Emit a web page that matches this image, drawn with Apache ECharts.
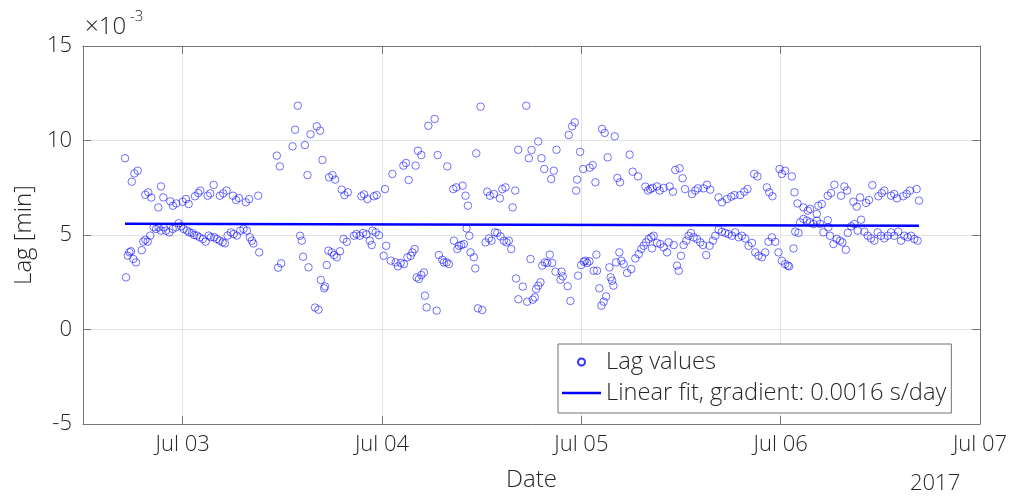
<!DOCTYPE html>
<html>
<head>
<meta charset="utf-8">
<script src="https://cdn.jsdelivr.net/npm/echarts@6/dist/echarts.min.js"></script>
<style>
  html, body { margin: 0; padding: 0; background: #ffffff; }
  #chart { width: 1011px; height: 497px; }
</style>
</head>
<body>
<div id="chart"></div>
<script>
// Lag samples, [hours after 2017-07-03 00:00, lag in 1e-3 min]
// upper branch of the lag record
const upperLag = [
  [-6.94,9.06],[-6.13,7.82],[-5.82,8.26],[-5.41,8.40],[-4.50,7.13],[-4.14,7.26],[-3.78,6.98],[-2.93,6.46],[-2.61,7.57],[-2.33,6.99],
  [-1.49,6.78],[-1.17,6.55],[-0.77,6.67],[0.00,6.76],[0.40,6.90],[0.72,6.64],[1.48,7.05],[1.88,7.22],[2.12,7.35],[3.01,7.08],
  [3.32,7.20],[3.73,7.65],[4.48,7.08],[4.88,7.20],[5.29,7.35],[6.05,7.08],[6.44,6.85],[6.77,6.96],[7.61,6.73],[8.01,6.90],
  [9.09,7.08],[11.34,9.20],[11.70,8.63],[13.23,9.69],[13.54,10.57],[13.86,11.84],[14.71,9.76],[15.03,8.17],[15.39,10.33],[16.15,10.75],
  [16.55,10.52],[16.83,8.97],[17.63,8.05],[18.04,8.17],[18.35,7.93],[19.15,7.40],[19.48,7.11],[19.88,7.26],[21.52,7.05],[21.84,7.15],
  [22.24,6.90],[23.04,7.05],[23.36,7.11],[24.36,7.43],[25.25,8.23],[26.57,8.67],[26.89,8.81],[27.21,7.91],[28.05,8.67],[28.33,9.46],
  [28.74,9.23],[29.58,10.78],[30.34,11.14],[30.70,9.23],[31.86,8.63],[32.58,7.43],[32.95,7.52],[33.70,7.61],[34.06,7.08],[34.34,6.55],
  [35.35,9.32],[35.87,11.79],[36.67,7.29],[36.99,7.08],[37.47,7.17],[38.19,6.94],[38.48,7.43],[38.87,7.52],[39.72,6.46],[40.04,7.35],
  [40.40,9.51],[41.37,11.84],[41.68,9.06],[42.00,9.50],[42.81,9.95],[43.20,9.06],[43.53,8.49],[44.37,7.96],[44.68,8.40],[45.01,9.51],
  [46.48,10.29],[46.89,10.75],[47.21,10.96],[47.37,7.35],[47.49,7.93],[47.86,9.40],[48.22,8.49],[49.01,8.56],[49.37,8.70],[49.70,7.79],
  [50.50,10.61],[50.81,10.40],[51.17,9.11],[52.02,10.22],[52.34,8.02],[52.66,7.79],[53.82,9.25],[54.18,8.35],[54.83,8.10],[55.71,7.56],
  [56.03,7.35],[56.31,7.43],[56.58,7.49],[57.11,7.57],[57.43,7.35],[57.91,7.49],[58.63,7.57],[59.04,7.29],[59.31,8.44],[59.83,8.53],
  [60.19,8.00],[60.48,7.43],[61.32,7.17],[61.72,7.35],[62.04,7.47],[62.72,7.47],[63.13,7.66],[63.52,7.40],[64.52,6.99],[64.93,6.73],
  [65.53,6.90],[66.05,7.03],[66.44,7.11],[67.13,7.11],[67.61,7.29],[68.01,7.43],[68.81,8.23],[69.21,8.10],[70.34,7.52],[70.62,7.26],
  [71.01,7.05],[71.86,8.49],[72.14,8.23],[72.54,8.40],[73.35,8.10],[73.66,7.26],[74.02,6.67],[74.74,6.46],[75.27,6.29],[75.55,6.38],
  [76.35,6.11],[76.54,6.55],[76.95,6.64],[77.67,7.08],[78.07,7.22],[78.47,7.66],[79.27,7.08],[79.67,7.57],[80.00,7.35],[80.75,6.76],
  [81.16,6.50],[81.56,6.99],[82.28,6.70],[82.64,6.85],[83.04,7.64],[83.76,7.05],[84.17,7.22],[84.48,7.35],[85.29,7.08],[85.68,7.17],
  [86.01,6.94],[86.76,7.05],[87.17,7.17],[87.57,7.35],[88.37,7.43],[88.65,6.82]
];

// lower branch of the lag record
const lowerLag = [
  [-6.82,2.76],[-6.61,3.91],[-6.42,4.09],[-6.22,4.14],[-5.94,3.73],[-5.62,3.55],[-4.93,4.20],[-4.74,4.65],[-4.50,4.75],[-4.21,4.65],
  [-3.90,4.97],[-3.49,5.41],[-3.21,5.32],[-2.89,5.41],[-2.61,5.23],[-2.28,5.41],[-2.01,5.23],[-1.61,5.14],[-1.20,5.32],[-0.81,5.41],
  [-0.48,5.62],[-0.20,5.46],[0.12,5.32],[0.52,5.23],[0.79,5.14],[1.12,5.11],[1.39,5.00],[1.72,4.97],[2.04,4.88],[2.44,4.79],
  [2.77,4.65],[3.13,4.97],[3.40,4.88],[3.80,4.88],[4.12,4.79],[4.45,4.70],[4.81,4.61],[5.09,4.56],[5.41,4.97],[5.81,5.14],
  [6.13,5.05],[6.53,4.97],[6.93,5.23],[7.33,5.32],[7.73,5.23],[8.09,4.88],[8.33,4.70],[8.51,4.55],[9.21,4.08],
  [11.49,3.27],[11.86,3.50],[14.14,4.96],[14.34,4.70],[14.50,3.85],[15.15,3.29],[15.94,1.16],[16.35,1.05],[16.63,2.62],[17.03,2.18],[17.15,2.28],
  [17.35,3.41],[17.55,4.17],[17.95,4.08],[18.23,3.94],[18.55,3.82],[18.95,4.14],[19.36,4.79],[19.76,4.64],[20.63,4.96],[20.92,5.05],
  [21.32,4.96],[21.72,5.11],[22.12,5.03],[22.52,4.70],[22.76,4.47],[22.85,5.23],[23.24,5.14],[23.64,4.99],[24.20,3.90],[24.50,4.43],
  [25.05,3.64],[25.65,3.55],[25.92,3.34],[26.25,3.52],[26.64,3.46],[27.05,3.82],[27.45,3.90],[27.66,4.08],[27.93,4.26],[28.17,2.76],
  [28.45,2.67],[28.74,2.88],[29.05,3.02],[29.17,1.79],[29.37,1.17],[30.58,1.00],[30.85,3.94],[31.26,3.69],[31.45,3.55],[31.78,3.55],
  [32.06,3.46],[32.66,4.70],[33.07,4.26],[33.26,4.43],[33.55,4.47],[33.86,4.52],[34.18,5.35],[34.51,4.96],[34.66,4.08],[35.06,3.82],
  [35.23,3.23],[35.54,1.12],[36.07,1.03],[36.47,4.61],[36.87,4.82],[37.19,4.70],[37.59,5.14],[37.88,5.11],[38.27,4.93],[38.67,4.70],
  [38.99,4.61],[39.27,4.70],[39.56,4.26],[40.14,2.70],[40.42,1.60],[40.95,2.27],[41.48,1.47],[41.88,3.73],[42.15,1.58],[42.40,1.70],
  [42.56,2.14],[42.81,2.32],[43.08,2.50],[43.29,3.38],[43.60,3.55],[43.89,3.52],[44.20,3.96],[44.49,3.52],[44.89,3.06],[45.49,2.64],
  [45.61,3.06],[45.76,2.81],[46.36,2.29],[46.69,1.51],[47.61,2.85],[47.98,3.41],[48.29,3.59],[48.49,3.64],[48.70,3.52],[48.97,3.61],
  [49.49,3.11],[49.81,3.96],[49.89,3.11],[50.17,2.18],[50.42,1.26],[50.69,1.47],[50.98,1.75],[51.38,3.29],[51.53,2.76],[51.70,2.58],
  [51.86,2.32],[52.18,3.55],[52.58,4.08],[52.82,3.64],[53.10,3.46],[53.51,2.99],[54.02,3.20],[54.50,3.76],[54.90,3.99],[55.22,4.26],
  [55.50,4.43],[55.79,4.61],[56.10,4.79],[56.43,4.88],[56.51,4.29],[56.70,4.96],[57.11,4.58],[57.51,4.52],[57.91,4.35],[58.32,4.08],
  [58.51,4.61],[59.12,4.47],[59.52,3.38],[59.72,3.11],[60.00,3.90],[60.31,4.47],[60.64,4.70],[60.91,4.96],[61.20,5.11],[61.51,4.88],
  [61.92,4.79],[62.32,4.61],[62.64,4.47],[63.04,3.94],[63.44,4.43],[63.84,4.70],[64.12,4.96],[64.52,5.28],[64.93,5.17],[65.33,5.11],
  [65.72,5.05],[66.13,4.96],[66.53,5.14],[66.93,4.88],[67.33,4.96],[67.73,4.82],[68.13,4.43],[68.54,4.58],[68.93,4.08],[69.33,3.90],
  [69.74,3.82],[70.14,4.08],[70.53,4.64],[70.94,4.88],[71.34,4.64],[71.74,4.08],[72.14,3.64],[72.54,3.46],[72.86,3.38],[73.02,3.34],
  [73.54,4.29],[73.75,5.18],[74.15,5.11],[74.35,5.67],[74.74,5.85],[75.15,5.76],[75.55,5.67],[75.95,5.58],[76.35,5.76],[76.75,5.58],
  [77.15,5.14],[77.67,5.78],[77.74,5.41],[77.94,4.96],[78.35,4.52],[78.75,4.79],[79.15,4.70],[79.43,4.61],[79.84,4.22],[80.08,5.11],
  [80.48,5.46],[80.87,5.58],[81.28,5.23],[81.68,5.81],[82.08,5.18],[82.48,4.96],[82.88,4.82],[83.28,4.70],[83.68,5.14],[84.08,4.96],
  [84.48,4.82],[84.89,4.96],[85.29,5.14],[85.68,4.96],[86.16,5.18],[86.49,4.70],[86.89,4.96],[87.29,4.88],[87.69,4.96],[88.09,4.79],[88.49,4.70]
];

// linear fit end points: [hours, lag]
const fitLine = [[-6.94, 5.59], [88.65, 5.49]];

// axis ticks and labels
const yTicks = { min: -5, max: 15, step: 5 };
const xRangeHours = [-12, 96];
const monthName = 'Jul';
const yearLabel = '2017';
const legendNames = ['Lag values', 'Linear fit, gradient: 0.0016 s/day'];

const HOUR = 3600 * 1000;
const DAY = 24 * HOUR;
const base = new Date(2017, 6, 3).getTime();
const toTime = h => base + h * HOUR;

const FONT = "'Open Sans', 'Noto Sans', sans-serif";
const TEXT = '#262626';
const AXIS = '#767676';
const GRID = '#e4e4e4';

const lagPoints = upperLag.concat(lowerLag)
  .sort((a, b) => a[0] - b[0])
  .map(p => [toTime(p[0]), p[1]]);

const chart = echarts.init(document.getElementById('chart'), null, { renderer: 'canvas' });

const xCommon = {
  type: 'time',
  min: toTime(xRangeHours[0]),
  max: toTime(xRangeHours[1]),
  minInterval: DAY,
  maxInterval: DAY
};
const yCommon = {
  type: 'value',
  min: yTicks.min,
  max: yTicks.max,
  interval: yTicks.step
};
const boxLine = { show: true, onZero: false, lineStyle: { color: AXIS, width: 1 } };
const boxTick = { show: true, inside: true, length: 8, lineStyle: { color: AXIS, width: 1 } };

// thin horizontal bar centred in a 39 x 7 legend cell
const fitIcon = 'path://M0,0M0,2.25H39V4.75H0ZM39,7';

chart.setOption({
  animation: false,
  backgroundColor: '#ffffff',
  textStyle: { fontFamily: FONT, fontWeight: 300, color: TEXT },
  grid: { left: 83, right: 31, top: 46, bottom: 71, containLabel: false },
  xAxis: [
    Object.assign({}, xCommon, {
      position: 'bottom',
      name: 'Date',
      nameLocation: 'middle',
      nameGap: 44,
      nameTextStyle: { fontSize: 24, fontFamily: FONT, fontWeight: 300, color: TEXT },
      axisLine: boxLine,
      axisTick: boxTick,
      axisLabel: {
        fontSize: 22, fontFamily: FONT, fontWeight: 300, color: TEXT, margin: 10,
        hideOverlap: false, showMinLabel: true, showMaxLabel: true,
        formatter: v => {
          const d = new Date(v);
          if (d.getHours() !== 0 || d.getMinutes() !== 0) return '';
          return monthName + ' ' + String(d.getDate()).padStart(2, '0');
        }
      },
      splitLine: { show: true, lineStyle: { color: GRID, width: 1 } }
    }),
    Object.assign({}, xCommon, {
      position: 'top',
      axisLine: boxLine,
      axisTick: boxTick,
      axisLabel: { show: false },
      splitLine: { show: false }
    })
  ],
  yAxis: [
    Object.assign({}, yCommon, {
      position: 'left',
      name: 'Lag [min]',
      nameLocation: 'middle',
      nameGap: 42,
      nameTextStyle: { fontSize: 24, fontFamily: FONT, fontWeight: 300, color: TEXT },
      axisLine: boxLine,
      axisTick: boxTick,
      axisLabel: { fontSize: 22, fontFamily: FONT, fontWeight: 300, color: TEXT, margin: 11 },
      splitLine: { show: true, lineStyle: { color: GRID, width: 1 } }
    }),
    Object.assign({}, yCommon, {
      position: 'right',
      axisLine: boxLine,
      axisTick: boxTick,
      axisLabel: { show: false },
      splitLine: { show: false }
    })
  ],
  legend: {
    orient: 'vertical',
    left: 558,
    top: 344,
    backgroundColor: '#ffffff',
    borderColor: '#707070',
    borderWidth: 1,
    borderRadius: 0,
    padding: [6, 5, 8, 4],
    itemWidth: 39,
    itemHeight: 7,
    itemGap: 7,
    selectedMode: false,
    textStyle: { fontSize: 23.7, lineHeight: 24, fontFamily: FONT, fontWeight: 300, color: TEXT },
    data: [
      { name: legendNames[0] },
      { name: legendNames[1], icon: fitIcon, itemStyle: { color: '#0000ff' } }
    ]
  },
  series: [
    {
      name: legendNames[0],
      type: 'scatter',
      xAxisIndex: 0,
      yAxisIndex: 0,
      data: lagPoints,
      symbol: 'circle',
      symbolSize: 7.5,
      silent: true,
      itemStyle: { color: 'rgba(255,255,255,0)', borderColor: '#0000ff', borderWidth: 0.7 },
      z: 2
    },
    {
      name: legendNames[1],
      type: 'line',
      xAxisIndex: 0,
      yAxisIndex: 0,
      data: fitLine.map(p => [toTime(p[0]), p[1]]),
      symbol: 'none',
      showSymbol: false,
      silent: true,
      lineStyle: { color: '#0000ff', width: 2.5 },
      itemStyle: { color: '#0000ff' },
      z: 3
    }
  ],
  graphic: [
    { type: 'text', x: 85, y: 27, silent: true,
      style: { text: '\u00d710', fontSize: 24, fontFamily: FONT, fontWeight: 300, fill: TEXT, verticalAlign: 'middle' } },
    { type: 'text', x: 130, y: 17, silent: true,
      style: { text: '-3', fontSize: 15, fontFamily: FONT, fontWeight: 300, fill: TEXT, verticalAlign: 'middle' } },
    { type: 'text', x: 910, y: 484, silent: true,
      style: { text: yearLabel, fontSize: 22, fontFamily: FONT, fontWeight: 300, fill: TEXT, verticalAlign: 'middle' } }
  ]
});
</script>
</body>
</html>
